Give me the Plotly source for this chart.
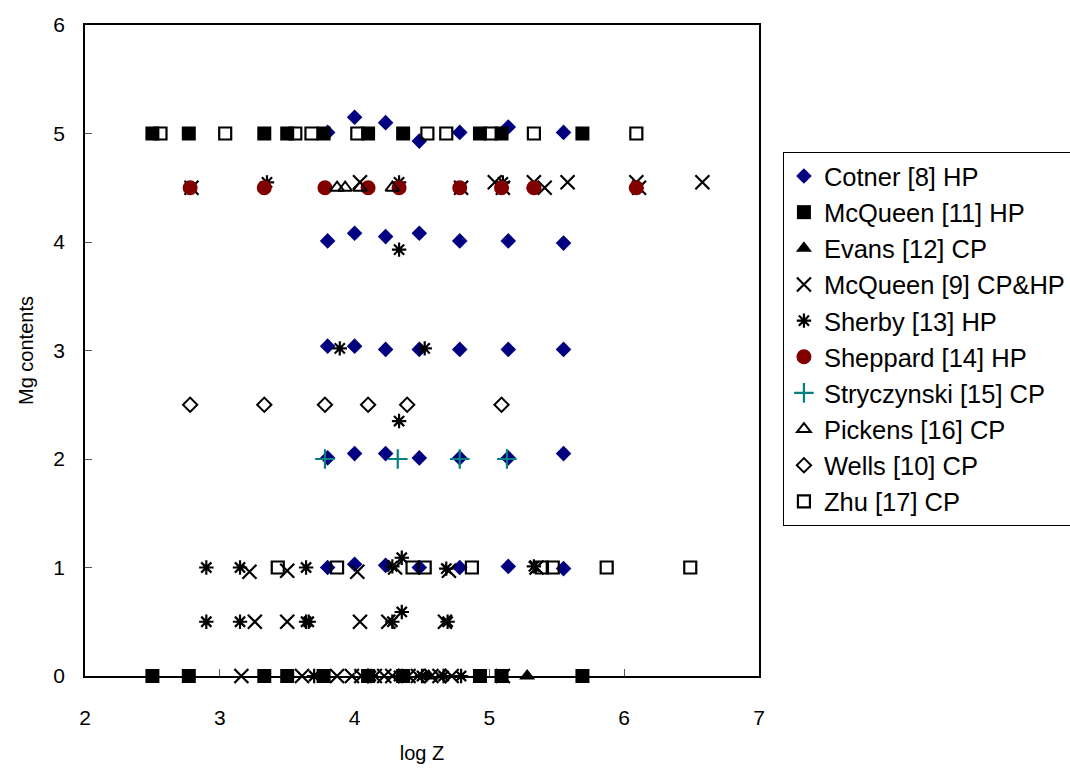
import plotly.graph_objects as go

# ---- data (log Z, Mg contents) ----
cotner_logz = [3.80, 4.00, 4.23, 4.48, 4.78, 5.14, 5.55,
               3.80, 4.00, 4.23, 4.48, 4.78, 5.14, 5.55,
               3.80, 4.00, 4.23, 4.48, 4.78, 5.14, 5.55,
               3.80, 4.00, 4.23, 4.48, 4.78, 5.14, 5.55,
               3.80, 4.00, 4.23, 4.48, 4.78, 5.14, 5.55]
cotner_mg = [5.01, 5.15, 5.10, 4.93, 5.01, 5.06, 5.01,
             4.01, 4.08, 4.05, 4.08, 4.01, 4.01, 3.99,
             3.04, 3.04, 3.01, 3.01, 3.01, 3.01, 3.01,
             2.01, 2.05, 2.05, 2.01, 2.01, 2.01, 2.05,
             1.00, 1.03, 1.02, 1.00, 1.00, 1.01, 0.99]

mcq11_logz = [2.50, 2.77, 3.33, 3.50, 3.77, 4.10, 4.36, 4.93, 5.09, 5.69,
              2.50, 2.77, 3.33, 3.50, 3.77, 4.10, 4.36, 4.93, 5.09, 5.69]
mcq11_mg = [5, 5, 5, 5, 5, 5, 5, 5, 5, 5,
            0, 0, 0, 0, 0, 0, 0, 0, 0, 0]

evans_logz = [4.55, 5.28]
evans_mg = [0, 0]

mcq9_logz = [2.79, 4.04, 4.79, 5.04, 5.10, 5.33, 5.41, 5.58, 6.09, 6.11, 6.58,
             3.22, 3.50, 4.02, 4.30, 4.70, 5.35,
             3.26, 3.50, 4.04, 4.25, 4.67,
             3.16, 3.61, 3.87, 3.98, 4.05, 4.15, 4.22, 4.28, 4.40, 4.47, 4.57, 4.63, 4.72, 5.10]
mcq9_mg = [4.50, 4.55, 4.50, 4.55, 4.50, 4.55, 4.50, 4.55, 4.55, 4.50, 4.55,
           0.96, 0.97, 0.96, 1.00, 0.97, 1.00,
           0.50, 0.50, 0.50, 0.50, 0.50,
           0, 0, 0, 0, 0, 0, 0, 0, 0, 0, 0, 0, 0, 0]

sherby_logz = [3.35, 4.33, 5.10,
               3.89, 4.52, 4.33, 4.33,
               2.90, 3.15, 3.64, 4.28, 4.35, 4.68, 5.33,
               2.90, 3.15, 3.64, 3.66, 4.28, 4.35, 4.69,
               3.70, 4.12, 4.33, 4.50, 4.66, 4.79]
sherby_mg = [4.55, 4.55, 4.55,
             3.02, 3.02, 3.93, 2.35,
             1.00, 1.00, 1.00, 1.01, 1.09, 0.99, 1.01,
             0.50, 0.50, 0.50, 0.50, 0.50, 0.59, 0.50,
             0, 0, 0, 0, 0, 0]

sheppard_logz = [2.78, 3.33, 3.78, 4.10, 4.33, 4.78, 5.09, 5.33, 6.09]
sheppard_mg = [4.5, 4.5, 4.5, 4.5, 4.5, 4.5, 4.5, 4.5, 4.5]

stryc_logz = [3.78, 4.32, 4.78, 5.13]
stryc_mg = [2.0, 2.0, 2.0, 2.0]

pickens_logz = [3.87, 3.93, 4.04, 4.28]
pickens_mg = [4.5, 4.5, 4.5, 4.5]

wells_logz = [2.78, 3.33, 3.78, 4.10, 4.39, 5.09]
wells_mg = [2.5, 2.5, 2.5, 2.5, 2.5, 2.5]

zhu_logz = [2.56, 3.04, 3.56, 3.68, 4.02, 4.54, 4.68, 5.01, 5.33, 6.09,
            3.43, 3.87, 4.43, 4.52, 4.87, 5.39, 5.47, 5.87, 6.49]
zhu_mg = [5, 5, 5, 5, 5, 5, 5, 5, 5, 5,
          1, 1, 1, 1, 1, 1, 1, 1, 1]

x_ticks = [2, 3, 4, 5, 6, 7]
y_ticks = [0, 1, 2, 3, 4, 5, 6]

FONT = "Arial, Liberation Sans, sans-serif"

series = [
    ("Cotner [8] HP", cotner_logz, cotner_mg, "diamond", 12, "#000080", 0),
    ("McQueen [11] HP", mcq11_logz, mcq11_mg, "square", 14, "#000000", 0),
    ("Evans [12] CP", evans_logz, evans_mg, "triangle-up", 14, "#000000", 0),
    ("McQueen [9] CP&HP", mcq9_logz, mcq9_mg, "x-thin-open", 14, "#000000", 2.2),
    ("Sherby [13] HP", sherby_logz, sherby_mg, "asterisk-open", 12, "#000000", 2.2),
    ("Sheppard [14] HP", sheppard_logz, sheppard_mg, "circle", 15, "#800000", 0),
    ("Stryczynski [15] CP", stryc_logz, stryc_mg, "cross-thin-open", 14, "#008080", 2.2),
    ("Pickens [16] CP", pickens_logz, pickens_mg, "triangle-up-open", 12, "#000000", 2),
    ("Wells [10] CP", wells_logz, wells_mg, "diamond-open", 11, "#000000", 2),
    ("Zhu [17] CP", zhu_logz, zhu_mg, "square-open", 12, "#000000", 2.2),
]

fig = go.Figure()
for name, xs, ys, sym, size, col, lw in series:
    fig.add_trace(go.Scatter(
        x=xs, y=ys, mode="markers", name=name, cliponaxis=False,
        marker=dict(symbol=sym, size=size, color=col,
                    line=dict(color=col, width=lw)),
    ))

axis_common = dict(
    showgrid=False, zeroline=False, showline=True, linecolor="#000000",
    linewidth=1.5, mirror=True, ticks="inside", ticklen=7, tickwidth=1,
    tickcolor="#555555", tickfont=dict(family=FONT, size=21, color="#000000"),
)

fig.update_layout(
    width=1070, height=771,
    margin=dict(l=85, r=311, t=25, b=95, autoexpand=False),
    paper_bgcolor="white", plot_bgcolor="white",
    font=dict(family=FONT, color="#000000"),
    xaxis=dict(range=[2, 7], tickvals=x_ticks, ticklabelstandoff=22,
               title=dict(text="log Z", font=dict(family=FONT, size=20), standoff=18),
               **axis_common),
    yaxis=dict(range=[0, 6], tickvals=y_ticks, ticklabelstandoff=14,
               title=dict(text="Mg contents", font=dict(family=FONT, size=20), standoff=14),
               **axis_common),
    legend=dict(x=1.0355, y=0.805, xanchor="left", yanchor="top",
                bgcolor="white", bordercolor="#000000", borderwidth=1,
                font=dict(family=FONT, size=25.5, color="#000000")),
    showlegend=True,
)

fig.write_html("out.html")
